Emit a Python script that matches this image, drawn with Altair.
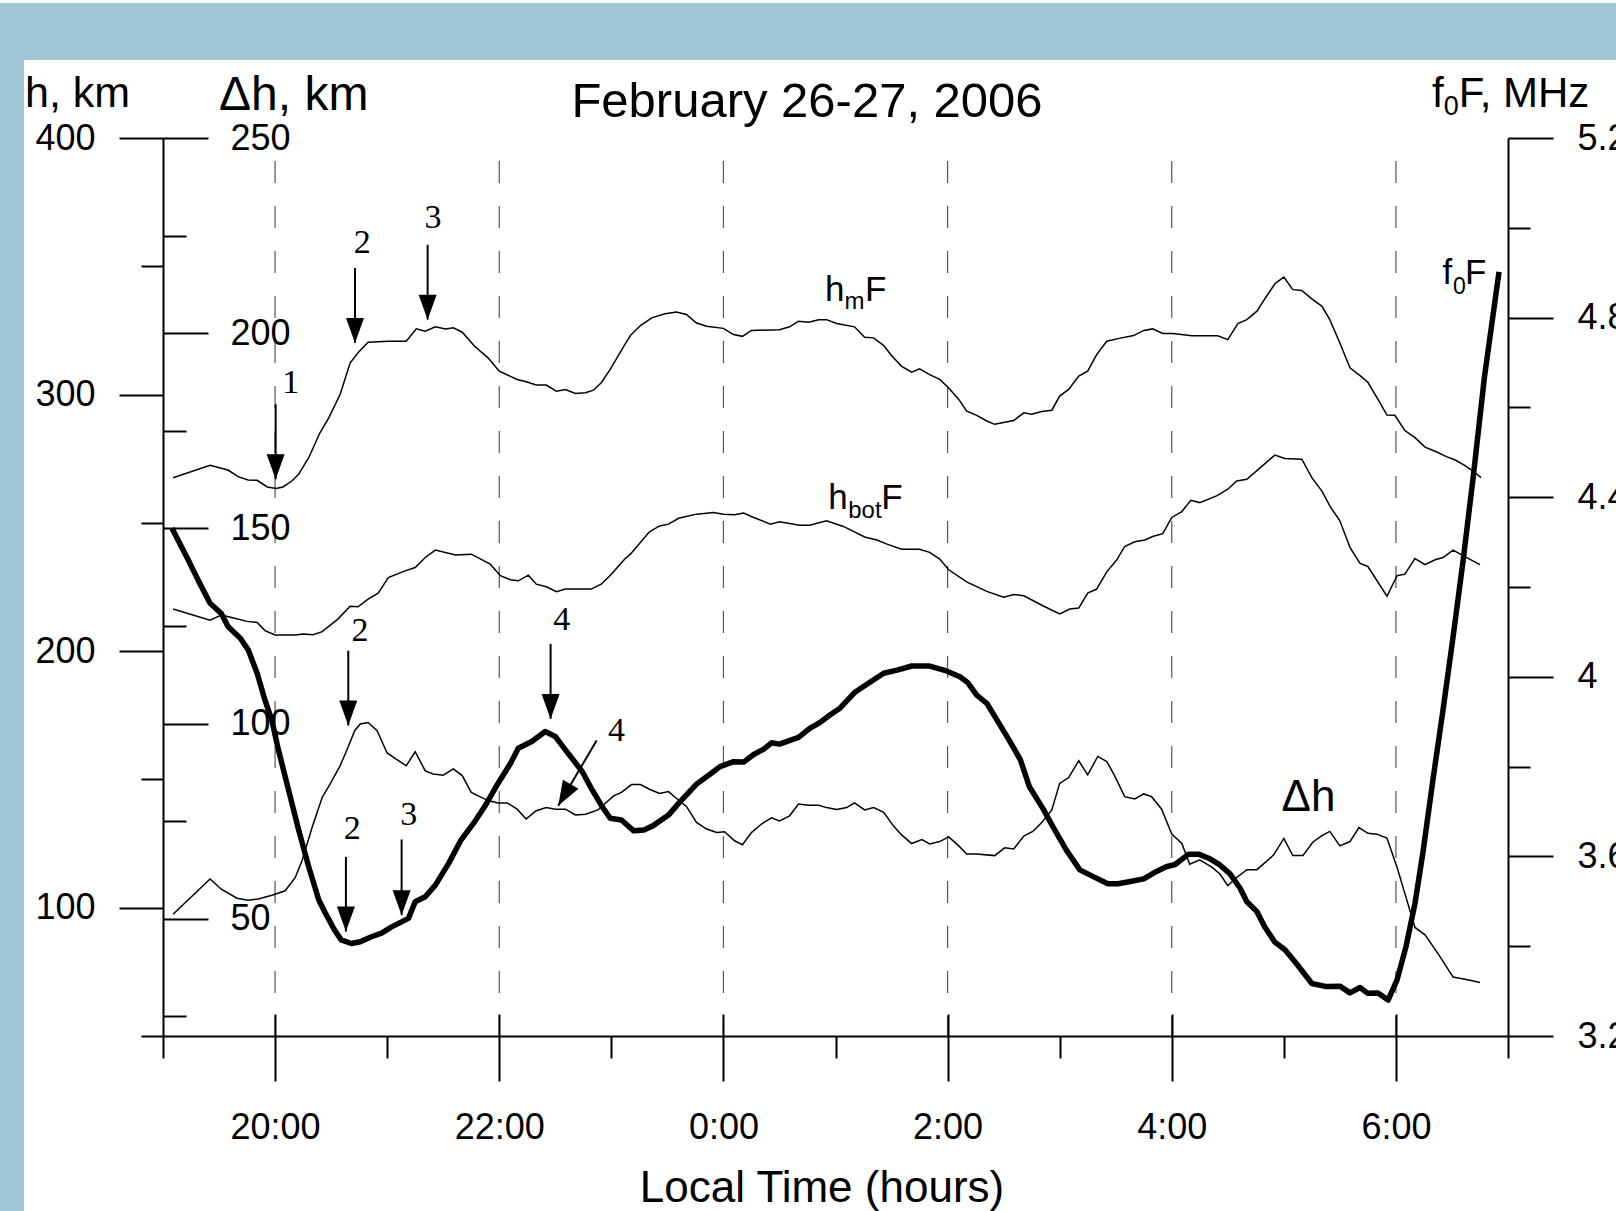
import altair as alt
import pandas as pd

# ---------------- data ----------------
hmf = [(19.09, 267.6), (19.42, 272.4), (19.58, 270.6), (19.67, 268.0), (19.76, 266.7), (19.84, 266.6),
       (19.93, 264.0), (20.01, 263.4), (20.07, 264.0), (20.15, 266.3), (20.21, 268.9), (20.30, 275.4),
       (20.40, 285.1), (20.48, 291.0), (20.58, 300.0), (20.67, 312.4), (20.74, 316.3), (20.83, 320.4),
       (21.01, 320.8), (21.17, 320.8), (21.26, 325.6), (21.34, 324.7), (21.43, 326.4), (21.52, 325.6),
       (21.59, 326.0), (21.67, 324.3), (21.78, 318.8), (21.90, 314.3), (22.00, 309.1), (22.16, 305.9),
       (22.24, 305.0), (22.33, 303.7), (22.42, 303.7), (22.51, 301.3), (22.59, 302.0), (22.68, 300.4),
       (22.77, 300.7), (22.84, 301.7), (22.91, 304.6), (22.99, 309.8), (23.12, 319.5), (23.17, 323.0),
       (23.26, 326.9), (23.36, 329.9), (23.48, 331.5), (23.58, 332.2), (23.67, 331.2), (23.76, 327.9),
       (23.85, 326.6), (24.00, 325.8), (24.09, 323.4), (24.17, 322.7), (24.25, 325.0), (24.50, 325.3),
       (24.59, 326.4), (24.67, 328.6), (24.76, 328.2), (24.85, 329.2), (24.92, 329.2), (25.01, 327.7),
       (25.17, 326.4), (25.26, 322.3), (25.34, 322.1), (25.43, 319.1), (25.50, 315.2), (25.59, 311.0),
       (25.68, 308.7), (25.75, 310.0), (25.84, 307.8), (25.93, 305.9), (26.01, 302.6), (26.10, 298.1),
       (26.17, 293.5), (26.26, 291.9), (26.35, 289.7), (26.42, 288.4), (26.59, 289.9), (26.68, 292.9),
       (26.75, 292.3), (26.84, 293.4), (26.93, 293.9), (27.00, 299.4), (27.08, 302.0), (27.17, 307.2),
       (27.25, 309.1), (27.33, 315.6), (27.42, 320.8), (27.52, 321.8), (27.66, 323.0), (27.75, 325.0),
       (27.83, 325.6), (27.92, 323.8), (28.01, 323.8), (28.18, 322.9), (28.41, 322.9), (28.50, 321.4),
       (28.59, 327.7), (28.67, 329.2), (28.76, 332.5), (28.83, 337.3), (28.92, 343.2), (29.00, 345.8),
       (29.08, 340.9), (29.16, 340.6), (29.25, 337.3), (29.34, 334.4), (29.41, 329.2), (29.50, 320.1),
       (29.59, 310.4), (29.68, 307.4), (29.75, 304.8), (29.84, 298.1), (29.92, 292.0), (29.99, 291.9),
       (30.08, 286.0), (30.17, 283.2), (30.26, 279.5), (30.36, 277.7), (30.45, 275.8), (30.53, 274.5),
       (30.62, 272.2), (30.69, 270.1), (30.76, 267.6)]

hbotf = [(19.09, 216.4), (19.42, 212.1), (19.52, 214.1), (19.64, 212.8), (19.75, 211.6), (19.84, 211.2),
         (19.91, 208.0), (20.00, 206.3), (20.18, 206.3), (20.25, 206.7), (20.34, 206.4), (20.42, 207.6),
         (20.56, 212.5), (20.67, 217.5), (20.74, 217.3), (20.83, 220.3), (20.92, 222.6), (21.01, 228.7),
         (21.16, 231.3), (21.25, 232.6), (21.34, 236.5), (21.43, 239.4), (21.61, 237.5), (21.75, 237.8),
         (21.92, 233.9), (22.01, 229.4), (22.10, 227.8), (22.17, 227.4), (22.26, 229.6), (22.33, 226.1),
         (22.42, 225.1), (22.51, 223.2), (22.59, 224.2), (22.82, 224.2), (22.91, 226.1), (23.00, 230.0),
         (23.12, 235.9), (23.17, 237.8), (23.34, 246.5), (23.43, 248.8), (23.51, 249.5), (23.60, 251.8),
         (23.76, 253.4), (23.91, 254.0), (24.00, 253.4), (24.10, 253.2), (24.18, 253.8), (24.27, 252.1),
         (24.42, 249.5), (24.50, 250.4), (24.68, 249.1), (24.77, 249.1), (24.92, 250.8), (25.07, 248.6),
         (25.26, 244.5), (25.37, 243.3), (25.46, 241.7), (25.59, 239.7), (25.75, 239.7), (25.84, 238.5),
         (25.93, 235.9), (26.01, 231.7), (26.17, 227.0), (26.35, 223.3), (26.50, 221.0), (26.59, 222.1),
         (26.68, 221.6), (26.85, 217.7), (27.00, 214.5), (27.09, 216.4), (27.17, 216.8), (27.25, 222.6),
         (27.33, 224.2), (27.42, 230.9), (27.51, 235.6), (27.58, 240.8), (27.67, 242.6), (27.76, 243.3),
         (27.83, 244.7), (27.92, 245.8), (28.00, 252.1), (28.09, 254.4), (28.17, 258.8), (28.25, 257.9),
         (28.40, 260.5), (28.50, 263.1), (28.58, 266.3), (28.67, 267.0), (28.79, 271.5), (28.92, 276.4),
         (29.01, 275.1), (29.16, 274.8), (29.25, 267.6), (29.34, 262.4), (29.41, 256.6), (29.50, 250.8),
         (29.59, 240.4), (29.68, 234.2), (29.75, 233.0), (29.92, 221.4), (30.01, 229.4), (30.08, 230.0),
         (30.17, 236.1), (30.26, 233.7), (30.35, 235.6), (30.42, 236.5), (30.51, 239.4), (30.59, 237.4),
         (30.75, 233.7)]

dh = [(19.09, 51.2), (19.42, 60.2), (19.52, 57.6), (19.66, 55.3), (19.76, 54.8), (19.85, 55.1),
      (19.98, 56.1), (20.09, 57.2), (20.18, 60.6), (20.24, 64.9), (20.33, 73.4), (20.42, 81.1),
      (20.49, 84.5), (20.58, 89.2), (20.65, 93.9), (20.71, 98.2), (20.76, 99.9), (20.83, 100.3),
      (20.91, 98.2), (21.00, 92.5), (21.08, 90.9), (21.17, 89.2), (21.25, 92.8), (21.34, 87.9),
      (21.41, 87.1), (21.50, 86.8), (21.59, 88.4), (21.67, 86.7), (21.75, 82.4), (21.84, 81.1),
      (21.90, 80.3), (21.99, 79.7), (22.07, 79.7), (22.16, 78.1), (22.24, 75.6), (22.33, 77.7),
      (22.42, 78.5), (22.50, 78.1), (22.59, 78.1), (22.68, 76.6), (22.77, 76.8), (22.88, 77.9),
      (23.02, 81.5), (23.09, 82.4), (23.18, 84.4), (23.26, 84.4), (23.34, 83.2), (23.43, 82.1),
      (23.51, 82.6), (23.58, 80.9), (23.67, 78.8), (23.76, 74.7), (23.85, 73.0), (23.94, 72.1),
      (24.01, 72.3), (24.10, 70.0), (24.17, 69.0), (24.25, 72.1), (24.34, 74.3), (24.43, 75.9),
      (24.50, 75.1), (24.59, 76.4), (24.67, 79.4), (24.76, 79.1), (24.85, 79.1), (24.92, 78.5),
      (25.01, 78.0), (25.10, 78.5), (25.17, 79.7), (25.26, 77.9), (25.34, 78.5), (25.43, 77.3),
      (25.52, 73.7), (25.59, 71.5), (25.68, 69.3), (25.77, 70.3), (25.84, 69.2), (25.93, 69.8),
      (26.01, 71.0), (26.10, 68.7), (26.17, 66.6), (26.26, 66.6), (26.42, 66.2), (26.51, 68.2),
      (26.59, 67.9), (26.68, 71.2), (26.76, 72.4), (26.84, 74.7), (26.93, 77.9), (27.00, 84.7),
      (27.08, 86.2), (27.17, 90.5), (27.25, 86.9), (27.34, 91.6), (27.42, 90.3), (27.49, 86.7),
      (27.58, 81.3), (27.67, 80.7), (27.75, 82.0), (27.82, 81.3), (27.91, 78.1), (28.00, 71.7),
      (28.09, 69.3), (28.16, 64.0), (28.25, 65.1), (28.36, 63.2), (28.43, 61.5), (28.50, 58.5),
      (28.58, 60.6), (28.67, 62.6), (28.76, 62.6), (28.91, 66.4), (29.00, 70.6), (29.08, 66.2),
      (29.17, 66.2), (29.26, 69.7), (29.34, 71.3), (29.41, 72.4), (29.50, 68.7), (29.59, 69.8),
      (29.67, 73.4), (29.75, 71.9), (29.83, 71.7), (29.92, 70.7), (30.01, 63.2), (30.09, 55.5),
      (30.17, 47.8), (30.26, 45.9), (30.38, 40.9), (30.51, 35.1), (30.64, 34.4), (30.75, 33.7)]

fof = [(19.08, 4.331), (19.23, 4.258), (19.32, 4.212), (19.42, 4.164), (19.52, 4.141), (19.58, 4.112),
       (19.69, 4.086), (19.76, 4.060), (19.84, 4.008), (19.91, 3.948), (19.97, 3.904), (20.03, 3.837),
       (20.12, 3.748), (20.21, 3.659), (20.30, 3.577), (20.39, 3.503), (20.45, 3.473), (20.53, 3.436),
       (20.59, 3.414), (20.68, 3.406), (20.76, 3.410), (20.86, 3.421), (20.95, 3.429), (21.04, 3.443),
       (21.19, 3.462), (21.25, 3.499), (21.34, 3.510), (21.43, 3.536), (21.55, 3.585), (21.66, 3.637),
       (21.78, 3.677), (21.87, 3.711), (21.99, 3.763), (22.10, 3.807), (22.17, 3.841), (22.29, 3.856),
       (22.41, 3.878), (22.50, 3.867), (22.57, 3.844), (22.65, 3.818), (22.74, 3.789), (22.82, 3.752),
       (22.91, 3.714), (22.99, 3.685), (23.09, 3.681), (23.20, 3.657), (23.29, 3.659), (23.37, 3.668),
       (23.51, 3.692), (23.60, 3.718), (23.76, 3.761), (23.88, 3.783), (23.97, 3.800), (24.09, 3.811),
       (24.18, 3.810), (24.27, 3.827), (24.36, 3.839), (24.43, 3.853), (24.50, 3.850), (24.67, 3.865),
       (24.77, 3.885), (24.86, 3.898), (24.95, 3.915), (25.04, 3.930), (25.17, 3.965), (25.29, 3.985),
       (25.43, 4.008), (25.55, 4.015), (25.68, 4.024), (25.84, 4.024), (25.99, 4.013), (26.11, 4.000),
       (26.18, 3.987), (26.26, 3.959), (26.35, 3.941), (26.44, 3.904), (26.54, 3.863), (26.65, 3.815),
       (26.73, 3.755), (26.85, 3.707), (26.94, 3.666), (27.06, 3.614), (27.18, 3.570), (27.30, 3.555),
       (27.43, 3.539), (27.52, 3.539), (27.63, 3.544), (27.75, 3.550), (27.86, 3.566), (27.95, 3.577),
       (28.03, 3.582), (28.15, 3.605), (28.24, 3.605), (28.33, 3.596), (28.43, 3.581), (28.52, 3.561),
       (28.61, 3.529), (28.67, 3.499), (28.76, 3.477), (28.83, 3.443), (28.92, 3.409), (29.01, 3.392),
       (29.11, 3.362), (29.25, 3.317), (29.38, 3.310), (29.50, 3.311), (29.59, 3.296), (29.68, 3.308),
       (29.75, 3.295), (29.84, 3.296), (29.93, 3.280), (30.01, 3.325), (30.09, 3.399), (30.17, 3.495),
       (30.24, 3.607), (30.33, 3.770), (30.42, 3.926), (30.51, 4.089), (30.60, 4.260), (30.69, 4.446),
       (30.79, 4.668), (30.92, 4.902)]

# tick values / labels
x_major_ticks = [20, 22, 24, 26, 28, 30]
x_minor_ticks = [19, 21, 23, 25, 27, 29, 31]
h_major_ticks = [100, 200, 300, 400]
h_minor_ticks = [50, 150, 250, 350]
dh_major_ticks = [50, 100, 150, 200, 250]
dh_minor_ticks = [25, 75, 125, 175, 225]
f_major_ticks = [3.2, 3.6, 4.0, 4.4, 4.8, 5.2]
f_minor_ticks = [3.4, 3.8, 4.2, 4.6, 5.0]

# annotation arrows (hour, h_start, h_tip) on the h scale
v_arrows = [(20.005, 296.2, 267.0), (20.713, 349.3, 320.1), (21.361, 358.4, 329.2),
            (20.653, 200.2, 171.0), (22.458, 202.8, 173.6), (20.632, 119.8, 90.7),
            (21.129, 126.6, 97.1)]
diag_arrow = [(22.869, 165.2, 22.526, 139.7)]
num_labels = [("1", 20.139, 304.6), ("2", 20.778, 359.0), ("3", 21.408, 368.7),
              ("2", 20.757, 208.0), ("4", 22.557, 212.1), ("4", 23.047, 168.8),
              ("2", 20.689, 130.7), ("3", 21.192, 136.0)]
hmf_label_pos = (24.906, 336.3)
hbot_label_pos = (24.935, 255.3)
dh_label_pos = (28.98, 137.6)
fof_label_pos = (30.416, 343.1)

X_DOMAIN = [19, 31]
H_DOMAIN = [50, 400]
DH_DOMAIN = [20, 250]
F_DOMAIN = [3.2, 5.2]
W, H = 1345, 898
PAD = {"left": 163, "top": 138, "right": 108, "bottom": 175}
SANS = "Liberation Sans"
SERIF = "Liberation Serif"


def xq(field="hour", axis=None):
    return alt.X(f"{field}:Q", scale=alt.Scale(domain=X_DOMAIN, nice=False, zero=False), axis=axis)


def yq(field, domain, axis=None):
    return alt.Y(f"{field}:Q", scale=alt.Scale(domain=domain, nice=False, zero=False), axis=axis)


common = dict(domainColor="black", tickColor="black", labelColor="black", labelFont=SANS,
              labelFontSize=36, title=None, grid=False, labelFlush=False, labelOverlap=False,
              tickWidth=2, domainWidth=2, zindex=1)

h_major = alt.Axis(orient="left", offset=0, values=h_major_ticks, tickSize=44, labelPadding=24,
                   domain=True, format="d", **common)
h_minor = alt.Axis(orient="left", offset=0, values=h_minor_ticks, tickSize=22, labels=False,
                   domain=False, **common)
dh_major = alt.Axis(orient="right", offset=-W, values=dh_major_ticks, tickSize=45, labelPadding=22,
                    domain=False, format="d", **common)
dh_minor = alt.Axis(orient="right", offset=-W, values=dh_minor_ticks, tickSize=23, labels=False,
                    domain=False, **common)
f_major = alt.Axis(orient="right", offset=0, values=f_major_ticks, tickSize=45, labelPadding=24,
                   domain=True, format="~g", **common)
f_minor = alt.Axis(orient="right", offset=0, values=f_minor_ticks, tickSize=22, labels=False,
                   domain=False, **common)
x_major = alt.Axis(orient="bottom", values=x_major_ticks, tickSize=45, labelPadding=29,
                   domain=True, labelExpr="(datum.value % 24) + ':00'", **common)
x_minor = alt.Axis(orient="bottom", values=x_minor_ticks, tickSize=22, labels=False,
                   domain=False, **common)
x_up = alt.Axis(orient="top", offset=-H, values=x_major_ticks, tickSize=22, labels=False,
                domain=False, **common)

one = pd.DataFrame({"a": [0]})

panel = alt.Chart(one).mark_rect(color="white").encode(
    x=alt.value(24 - PAD["left"]), x2=alt.value(W + PAD["right"]),
    y=alt.value(60 - PAD["top"]), y2=alt.value(H + PAD["bottom"]))
strip = alt.Chart(one).mark_rect(color="white").encode(
    x=alt.value(-PAD["left"]), x2=alt.value(W + PAD["right"]),
    y=alt.value(-PAD["top"]), y2=alt.value(-PAD["top"] + 3))

grid = alt.Chart(pd.DataFrame({"hour": x_major_ticks})).mark_rule(
    color="#555555", strokeWidth=1.2, strokeDash=[22, 23], strokeDashOffset=22
).encode(x=xq(axis=x_up))

df_hmf = pd.DataFrame(hmf, columns=["hour", "h"])
df_hbot = pd.DataFrame(hbotf, columns=["hour", "h"])
df_dh = pd.DataFrame(dh, columns=["hour", "dh"])
df_f = pd.DataFrame(fof, columns=["hour", "f"])

line_hmf = alt.Chart(df_hmf).mark_line(color="black", strokeWidth=1.5).encode(
    x=xq(axis=x_major), y=yq("h", H_DOMAIN, h_major), order="hour:Q")
line_hbot = alt.Chart(df_hbot).mark_line(color="black", strokeWidth=1.5).encode(
    x=xq(axis=x_minor), y=yq("h", H_DOMAIN, h_minor), order="hour:Q")
line_dh = alt.Chart(df_dh).mark_line(color="black", strokeWidth=1.5).encode(
    x=xq(), y=yq("dh", DH_DOMAIN, dh_major), order="hour:Q")
line_f = alt.Chart(df_f).mark_line(color="black", strokeWidth=5.5, strokeJoin="round").encode(
    x=xq(), y=yq("f", F_DOMAIN, f_major), order="hour:Q")

dh_minor_layer = alt.Chart(pd.DataFrame({"v": dh_minor_ticks})).mark_point(opacity=0).encode(
    y=yq("v", DH_DOMAIN, dh_minor))
f_minor_layer = alt.Chart(pd.DataFrame({"v": f_minor_ticks})).mark_point(opacity=0).encode(
    y=yq("v", F_DOMAIN, f_minor))

df_va = pd.DataFrame(v_arrows, columns=["hour", "h0", "h1"])
shafts = alt.Chart(df_va).mark_rule(color="black", strokeWidth=2).encode(
    x=xq(), y=yq("h0", H_DOMAIN), y2="h1:Q")
HEAD = "M0,0 L-0.36,-1 L0.36,-1 Z"
heads = alt.Chart(df_va).mark_point(shape=HEAD, size=2500, filled=True, color="black",
                                    opacity=1, strokeWidth=0).encode(
    x=xq(), y=yq("h1", H_DOMAIN))

df_da = pd.DataFrame(diag_arrow, columns=["hour", "h0", "hour1", "h1"])
dshaft = alt.Chart(df_da).mark_rule(color="black", strokeWidth=2).encode(
    x=xq(), x2="hour1:Q", y=yq("h0", H_DOMAIN), y2="h1:Q")
dhead = alt.Chart(df_da).mark_point(shape=HEAD, size=2500, filled=True, color="black",
                                    opacity=1, strokeWidth=0, angle=30).encode(
    x=xq("hour1"), y=yq("h1", H_DOMAIN))

df_num = pd.DataFrame(num_labels, columns=["t", "hour", "h"])
nums = alt.Chart(df_num).mark_text(font=SERIF, fontSize=34, color="black", align="center",
                                   baseline="middle").encode(
    x=xq(), y=yq("h", H_DOMAIN), text="t:N")


def piece(pos, text, size, dx=0, dy=0, font=SANS):
    d = pd.DataFrame({"hour": [pos[0]], "h": [pos[1]], "t": [text]})
    return alt.Chart(d).mark_text(font=font, fontSize=size, color="black", align="left",
                                  baseline="alphabetic", dx=dx, dy=dy).encode(
        x=xq(), y=yq("h", H_DOMAIN), text="t:N")


curve_labels = [
    piece(hmf_label_pos, "h", 35), piece(hmf_label_pos, "m", 24, dx=19.5, dy=8),
    piece(hmf_label_pos, "F", 35, dx=40),
    piece(hbot_label_pos, "h", 35), piece(hbot_label_pos, "bot", 24, dx=20, dy=9),
    piece(hbot_label_pos, "F", 35, dx=53),
    piece(dh_label_pos, "Δh", 44),
    piece(fof_label_pos, "f", 35), piece(fof_label_pos, "0", 23, dx=10.5, dy=10),
    piece(fof_label_pos, "F", 35, dx=22.5),
]


def ptext(text, x, y, size, align="left", dx=0, dy=0):
    return alt.Chart(one).mark_text(font=SANS, fontSize=size, color="black", align=align,
                                    baseline="alphabetic", dx=dx, dy=dy).encode(
        x=alt.value(x), y=alt.value(y), text=alt.value(text))


titles = [
    ptext("February 26-27, 2006", 807 - PAD["left"], 117 - PAD["top"], 49, align="center"),
    ptext("h, km", 25 - PAD["left"], 107 - PAD["top"], 43),
    ptext("Δh, km", 219 - PAD["left"], 110 - PAD["top"], 48),
    ptext("f", 1432 - PAD["left"], 107 - PAD["top"], 42),
    ptext("0", 1432 - PAD["left"], 107 - PAD["top"], 27, dx=11.7, dy=8),
    ptext("F, MHz", 1432 - PAD["left"], 107 - PAD["top"], 42, dx=26.7),
    ptext("Local Time (hours)", 822 - PAD["left"], 1202 - PAD["top"], 44, align="center"),
]

chart = alt.layer(
    panel, strip, grid, line_hmf, line_hbot, line_dh, line_f, dh_minor_layer, f_minor_layer,
    shafts, heads, dshaft, dhead, nums, *curve_labels, *titles
).resolve_scale(x="independent", y="independent").resolve_axis(
    x="independent", y="independent"
).properties(
    width=W, height=H, autosize=alt.AutoSizeParams(type="none"), padding=PAD,
    background="#A0C8D4"
).configure_view(stroke=None)

chart.save("out.html", embed_options={"renderer": "svg", "actions": False})
